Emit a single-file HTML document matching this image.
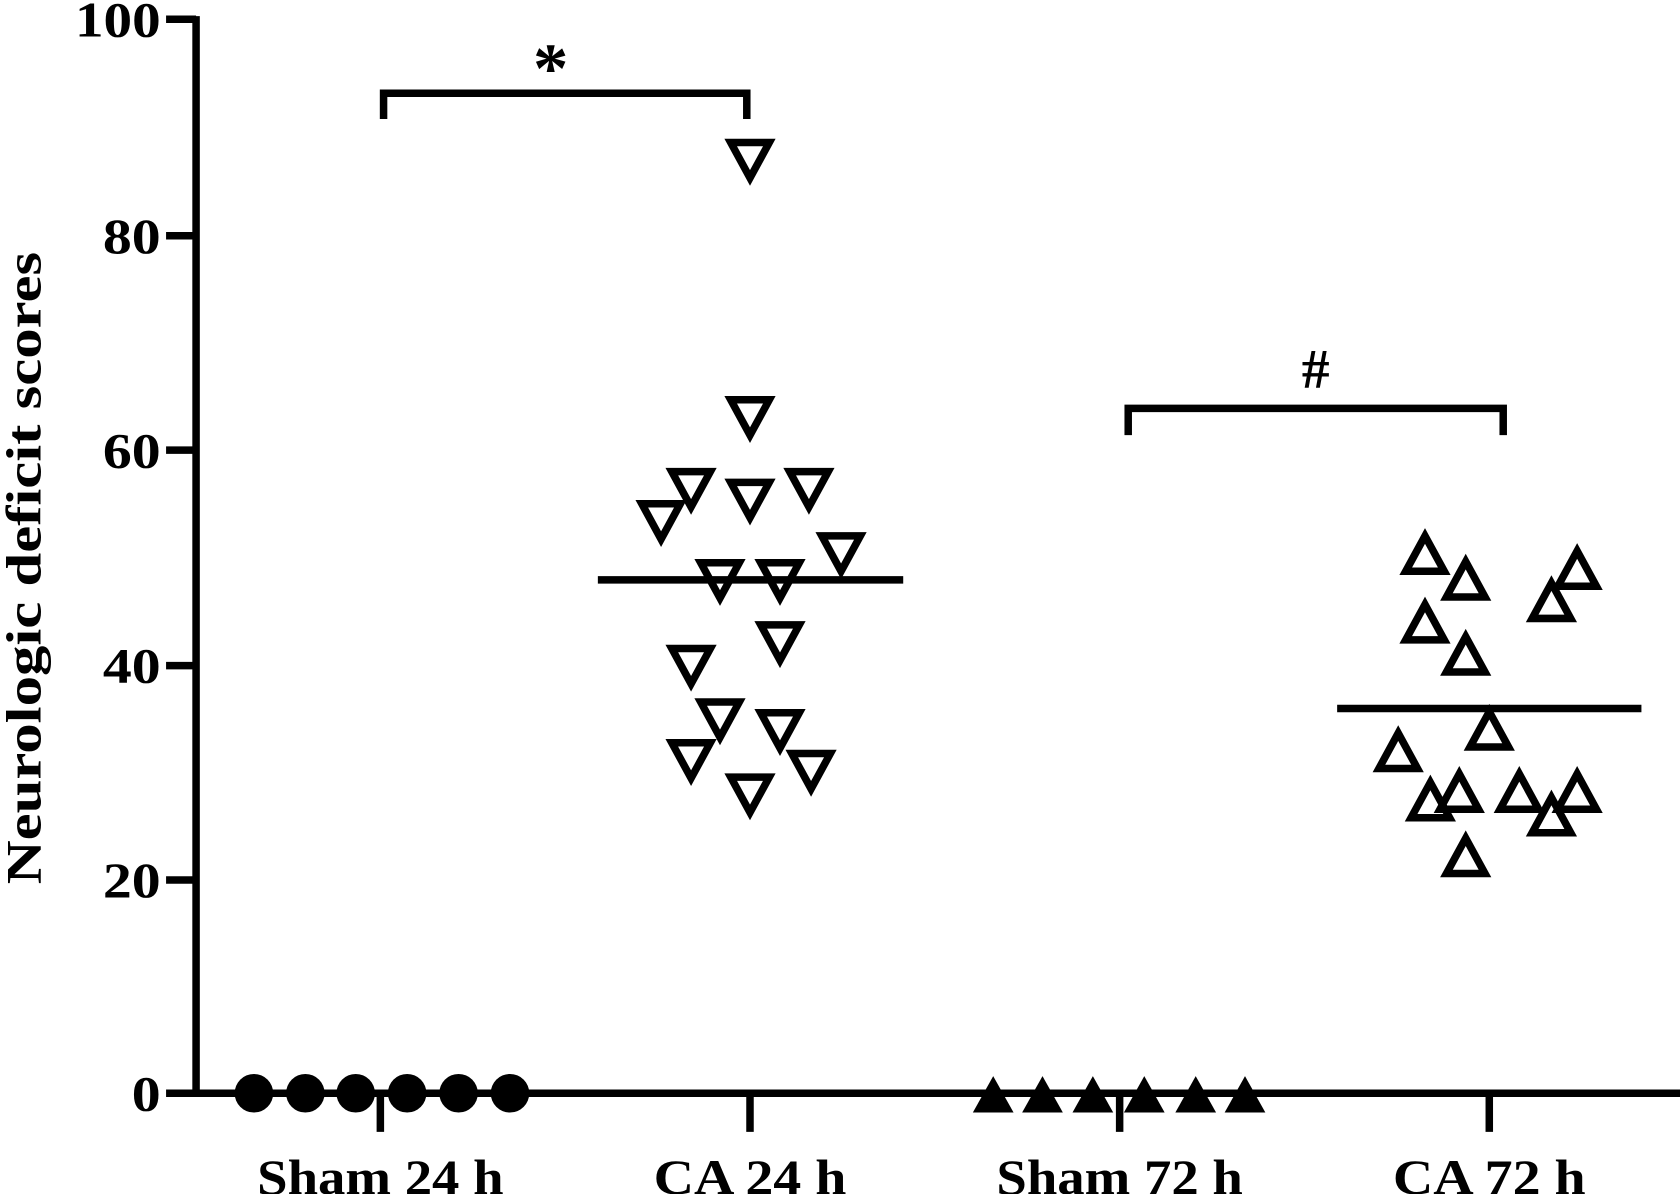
<!DOCTYPE html>
<html><head><meta charset="utf-8"><style>html,body{margin:0;padding:0;background:#fff}svg{display:block}</style></head>
<body>
<svg width="1680" height="1194" viewBox="0 0 1568 1114" preserveAspectRatio="none" xmlns="http://www.w3.org/2000/svg">
<defs>
<polygon id="dn" points="-18,-15 18,-15 0,18" fill="none" stroke="#000" stroke-width="7" stroke-linejoin="miter"/>
<polygon id="up" points="-18,15 18,15 0,-18" fill="none" stroke="#000" stroke-width="7" stroke-linejoin="miter"/>
<polygon id="fu" points="-19,17 19,17 0,-17" fill="#000"/>
</defs>
<g stroke="#000" stroke-width="7" fill="none">
<line x1="183" y1="15" x2="183" y2="1023"/>
<line x1="180" y1="1020" x2="1568" y2="1020"/>
<line x1="155" y1="18" x2="183" y2="18"/>
<line x1="155" y1="220" x2="183" y2="220"/>
<line x1="155" y1="420" x2="183" y2="420"/>
<line x1="155" y1="621" x2="183" y2="621"/>
<line x1="155" y1="821" x2="183" y2="821"/>
<line x1="155" y1="1020" x2="183" y2="1020"/>
<line x1="355" y1="1020" x2="355" y2="1056"/>
<line x1="700" y1="1020" x2="700" y2="1056"/>
<line x1="1045" y1="1020" x2="1045" y2="1056"/>
<line x1="1390" y1="1020" x2="1390" y2="1056"/>
<polyline points="358,111 358,87 697,87 697,111"/>
<polyline points="1053,406 1053,381 1403,381 1403,406"/>
<line x1="558" y1="541" x2="843" y2="541"/>
<line x1="1248" y1="661" x2="1532" y2="661"/>
</g>
<g font-family="Liberation Serif, serif" font-weight="bold" font-size="46" text-anchor="end" fill="#000">
<text x="150" y="34" textLength="80" lengthAdjust="spacingAndGlyphs">100</text>
<text x="150" y="236" textLength="54" lengthAdjust="spacingAndGlyphs">80</text>
<text x="150" y="436" textLength="54" lengthAdjust="spacingAndGlyphs">60</text>
<text x="150" y="637" textLength="54" lengthAdjust="spacingAndGlyphs">40</text>
<text x="150" y="837" textLength="54" lengthAdjust="spacingAndGlyphs">20</text>
<text x="150" y="1036" textLength="27" lengthAdjust="spacingAndGlyphs">0</text>
</g>
<g font-family="Liberation Serif, serif" font-weight="bold" font-size="46" fill="#000">
<text x="240" y="1114" textLength="230" lengthAdjust="spacingAndGlyphs">Sham 24 h</text>
<text x="610" y="1114" textLength="180" lengthAdjust="spacingAndGlyphs">CA 24 h</text>
<text x="930" y="1114" textLength="230" lengthAdjust="spacingAndGlyphs">Sham 72 h</text>
<text x="1300" y="1114" textLength="180" lengthAdjust="spacingAndGlyphs">CA 72 h</text>
<text x="514" y="86" font-size="66" text-anchor="middle">*</text>
<text x="1228" y="362" font-size="52" text-anchor="middle">#</text>
<text transform="translate(38,825) rotate(-90)" font-size="46" textLength="590" lengthAdjust="spacingAndGlyphs">Neurologic deficit scores</text>
</g>
<g fill="#000">
<circle cx="237" cy="1020" r="18"/><circle cx="285" cy="1020" r="18"/><circle cx="332" cy="1020" r="18"/>
<circle cx="380" cy="1020" r="18"/><circle cx="428" cy="1020" r="18"/><circle cx="476" cy="1020" r="18"/>
</g>
<use href="#fu" x="927" y="1021"/><use href="#fu" x="973" y="1021"/><use href="#fu" x="1020" y="1021"/>
<use href="#fu" x="1068" y="1021"/><use href="#fu" x="1116" y="1021"/><use href="#fu" x="1162" y="1021"/>
<use href="#dn" x="700" y="148"/><use href="#dn" x="700" y="388"/><use href="#dn" x="645" y="455"/>
<use href="#dn" x="755" y="455"/><use href="#dn" x="700" y="465"/><use href="#dn" x="617" y="485"/>
<use href="#dn" x="785" y="515"/><use href="#dn" x="672" y="540"/><use href="#dn" x="728" y="540"/>
<use href="#dn" x="728" y="598"/><use href="#dn" x="645" y="620"/><use href="#dn" x="672" y="670"/>
<use href="#dn" x="728" y="680"/><use href="#dn" x="645" y="708"/><use href="#dn" x="757" y="718"/>
<use href="#dn" x="700" y="740"/>
<use href="#up" x="1330" y="518"/><use href="#up" x="1368" y="542"/><use href="#up" x="1472" y="532"/>
<use href="#up" x="1448" y="562"/><use href="#up" x="1330" y="582"/><use href="#up" x="1368" y="612"/>
<use href="#up" x="1390" y="682"/><use href="#up" x="1305" y="702"/><use href="#up" x="1335" y="748"/>
<use href="#up" x="1362" y="740"/><use href="#up" x="1418" y="740"/><use href="#up" x="1472" y="740"/>
<use href="#up" x="1448" y="762"/><use href="#up" x="1368" y="800"/>
</svg>
</body></html>
